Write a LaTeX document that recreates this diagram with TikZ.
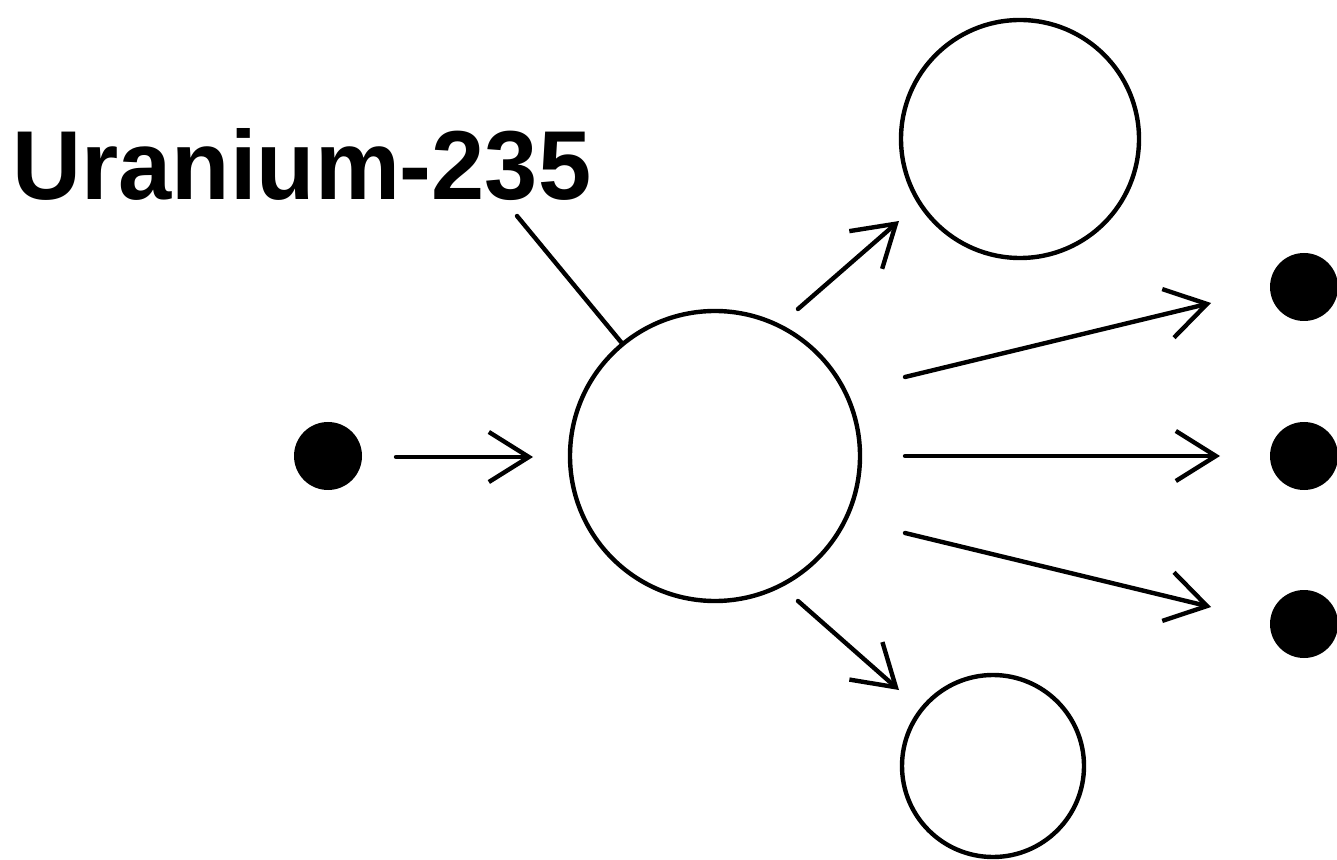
\documentclass[tikz,border=0pt]{standalone}
\usepackage{fontspec}
\setmainfont{Liberation Sans}
\newfontfamily\lblfont{Liberation Sans}[FakeStretch=0.975]
\usetikzlibrary{arrows.meta}
\begin{document}
\begin{tikzpicture}[x=0.5pt,y=-0.5pt,
  ring/.style={circle,draw,line width=2.2pt,inner sep=0pt},
  dot/.style={circle,fill=black,inner sep=0pt,minimum size=34pt},
  flow/.style={line width=2.2pt,line cap=round,-{Straight Barb[length=20pt,width=25pt]}},
  leader/.style={line width=2.2pt,line cap=round}
]
\useasboundingbox (0,0) rectangle (1337,860);
% nuclei and particles
\node[dot] (n0) at (328,456) {};
\node[ring,minimum size=145pt] (u) at (715,456) {};
\node[ring,minimum size=119pt] (f1) at (1020,139) {};
\node[ring,minimum size=91pt] (f2) at (993,766) {};
\node[dot] (n1) at (1304,287) {};
\node[dot] (n2) at (1304,456) {};
\node[dot] (n3) at (1304,624) {};
% label
\node[anchor=base west,inner sep=0pt,font=\lblfont\fontsize{49}{49}\selectfont\bfseries] (lbl) at (12,200) {Uranium-235};
\coordinate (lblpt) at (517,216);
\draw[leader] (lblpt) -- (u);
% arrow end points
\coordinate (a0s) at (396,457); \coordinate (a0e) at (533,457);
\coordinate (a1s) at (798,309); \coordinate (a1e) at (899,221);
\coordinate (a2s) at (905,377); \coordinate (a2e) at (1211,303);
\coordinate (a3s) at (905,456); \coordinate (a3e) at (1220,456);
\coordinate (a4s) at (905,533); \coordinate (a4e) at (1211,607);
\coordinate (a5s) at (798,601); \coordinate (a5e) at (899,690);
\draw[flow] (a0s) -- (a0e);
\draw[flow] (a1s) -- (a1e);
\draw[flow] (a2s) -- (a2e);
\draw[flow] (a3s) -- (a3e);
\draw[flow] (a4s) -- (a4e);
\draw[flow] (a5s) -- (a5e);
\end{tikzpicture}
\end{document}
